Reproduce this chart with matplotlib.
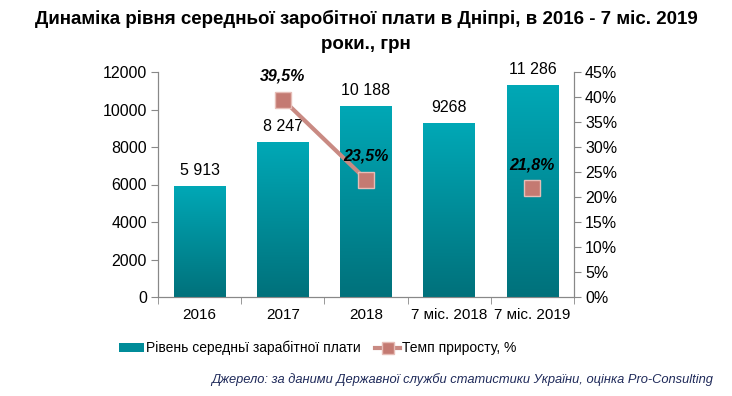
import numpy as np
import matplotlib.pyplot as plt
from matplotlib.colors import LinearSegmentedColormap
from matplotlib.lines import Line2D
from matplotlib.patches import Patch
from matplotlib.ticker import FuncFormatter

plt.rcParams['font.family'] = ['Liberation Sans', 'DejaVu Sans']

# data
categories = ['2016', '2017', '2018', '7 міс. 2018', '7 міс. 2019']
salary = [5913, 8247, 10188, 9268, 11286]
salary_labels = ['5 913', '8 247', '10 188', '9268', '11 286']
growth = [np.nan, 39.5, 23.5, np.nan, 21.8]
growth_labels = ['', '39,5%', '23,5%', '', '21,8%']

title = 'Динаміка рівня середньої заробітної плати в Дніпрі, в 2016 - 7 міс. 2019\nроки., грн'
source = 'Джерело: за даними Державної служби статистики України, оцінка Pro-Consulting'

fig = plt.figure(figsize=(7.32, 3.96), dpi=100)
ax = fig.add_axes([158/732, 1-297/396, (574-158)/732, (297-72)/396])
ax2 = ax.twinx()

x = np.arange(len(categories))
bars = ax.bar(x, salary, width=0.62, color='#008C99', zorder=2)

# vertical gradient on each bar
cmap = LinearSegmentedColormap.from_list('teal', ['#00717B', '#00A8B6'])
grad = np.linspace(0, 1, 256).reshape(-1, 1)
for b in bars:
    x0, y0 = b.get_x(), b.get_y()
    im = ax.imshow(grad, cmap=cmap, origin='lower', aspect='auto',
                   extent=[x0, x0 + b.get_width(), y0, y0 + b.get_height()], zorder=3)
    im.set_clip_path(b)

ax.set_xlim(-0.5, len(categories) - 0.5)
ax.set_ylim(0, 12000)
ax.set_yticks(np.arange(0, 12001, 2000))
ax.set_xticks(x)
ax.set_xticklabels(categories, fontsize=11)
ax.set_xticks(np.arange(-0.5, len(categories)), minor=True)
ax.tick_params(axis='x', which='major', length=0, pad=8)
ax.tick_params(axis='x', which='minor', length=5, color='#888888')
ax.tick_params(axis='y', length=5, color='#888888', labelsize=11.5, pad=3)

for xi, v, lab in zip(x, salary, salary_labels):
    ax.text(xi, v + 450, lab, ha='center', va='bottom', fontsize=11.5, zorder=5)

ax2.plot(x, growth, color='#C98A83', lw=3, marker='s', markersize=11,
         markerfacecolor='#C47A72', markeredgecolor='#E6BDB7', markeredgewidth=1, zorder=4)
ax2.set_ylim(0, 45)
ax2.set_yticks(np.arange(0, 46, 5))
ax2.yaxis.set_major_formatter(FuncFormatter(lambda v, p: f'{int(v)}%'))
ax2.tick_params(axis='y', length=5, color='#888888', labelsize=11.5, pad=3)
for xi, v, lab in zip(x, growth, growth_labels):
    if lab:
        ax2.text(xi, v + 3.2, lab, ha='center', va='bottom', fontsize=11.5,
                 fontweight='bold', fontstyle='italic', zorder=6)

for a in (ax, ax2):
    a.spines['top'].set_visible(False)
    for s in ('left', 'right', 'bottom'):
        a.spines[s].set_color('#888888')

fig.text(0.5, 0.975, title, ha='center', va='top', fontsize=13.5, fontweight='bold',
         family=['Liberation Sans Narrow', 'Liberation Sans'], linespacing=1.6)

handles = [Patch(facecolor='#008C99', edgecolor='none'),
           Line2D([0], [0], color='#C98A83', lw=3, marker='s', markersize=9,
                  markerfacecolor='#C47A72', markeredgecolor='#E6BDB7')]
fig.legend(handles, ['Рівень середньї зарабітної плати', 'Темп приросту, %'],
           loc='center', bbox_to_anchor=(318/732, 1-348/396), ncol=2, frameon=False,
           fontsize=10, handlelength=1.8, handleheight=0.6, handletextpad=0.15,
           columnspacing=1.0)

fig.text(713/732, 1-380/396, source, ha='right', va='center', fontsize=9.3,
         fontstyle='italic', color='#1F2A5A')

fig.savefig('out.png', dpi=100)
